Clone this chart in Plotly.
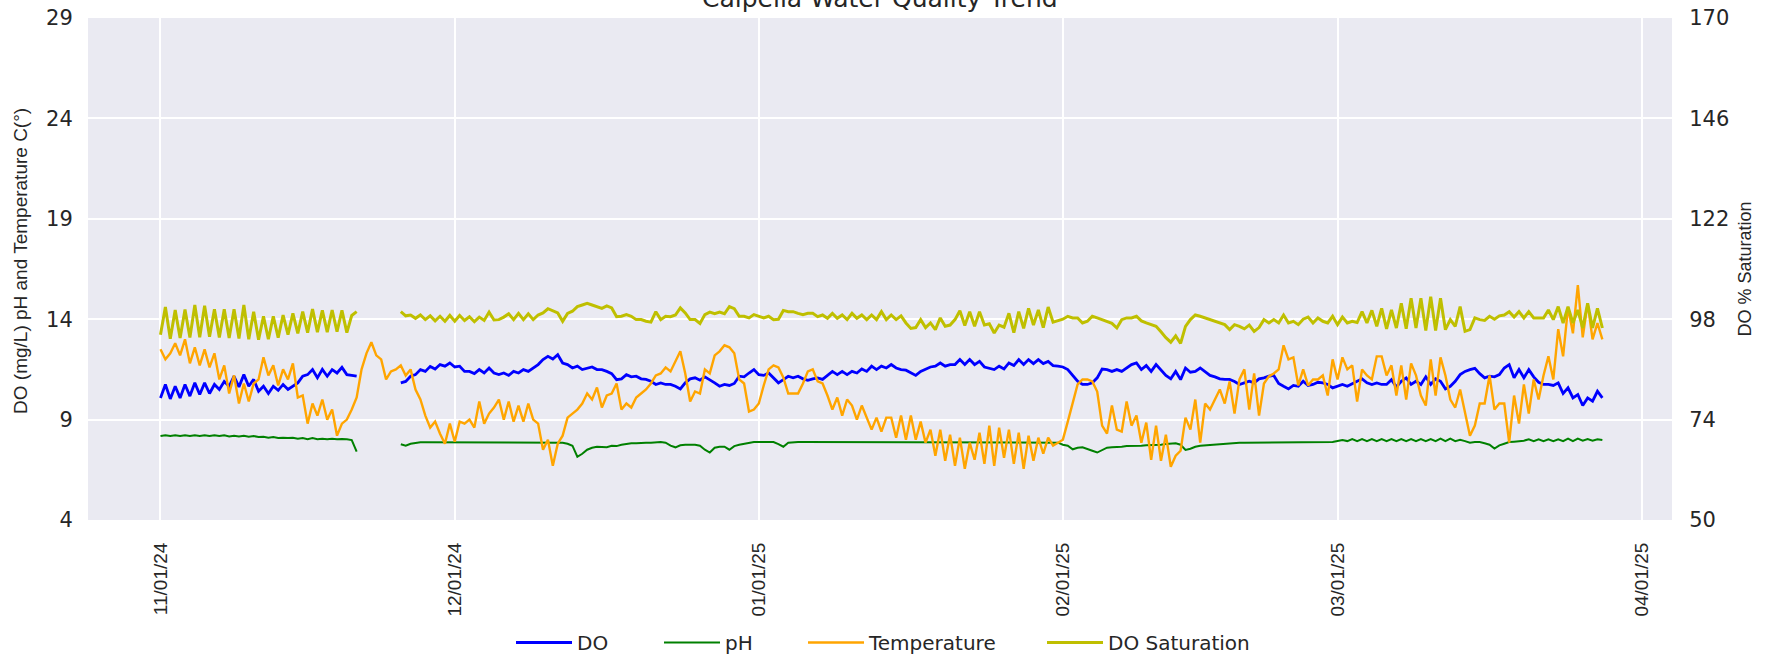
import pandas as pd
import plotly.graph_objects as go

# ---- sampling: one reading every 12 hours starting 2024-11-01 00:00 ----
start_time = "2024-11-01 00:00"
sample_step = "12h"

# DO (mg/L) - left axis (None = logger gap)
do_mgl = [
    10.08, 10.75, 10.03, 10.66, 10.08, 10.75, 10.17, 10.83, 10.25, 10.83,
    10.3, 10.75, 10.5, 10.9, 10.66, 11.16, 10.63, 11.24, 10.66, 11.0,
    10.41, 10.66, 10.3, 10.66, 10.46, 10.75, 10.5, 10.66, 10.83, 11.16,
    11.24, 11.49, 11.08, 11.5, 11.16, 11.49, 11.32, 11.6, 11.24, 11.2,
    11.16, None, None, None, None, None, None, None, None, 10.83,
    10.9, 11.16, 11.24, 11.49, 11.4, 11.65, 11.52, 11.74, 11.66, 11.82,
    11.62, 11.66, 11.4, 11.4, 11.29, 11.49, 11.32, 11.57, 11.32, 11.24,
    11.32, 11.2, 11.4, 11.32, 11.49, 11.4, 11.57, 11.74, 11.99, 12.15,
    12.02, 12.23, 11.82, 11.74, 11.57, 11.66, 11.49, 11.57, 11.62, 11.49,
    11.49, 11.4, 11.29, 10.99, 11.03, 11.24, 11.13, 11.16, 11.03, 11.0,
    10.91, 10.75, 10.83, 10.75, 10.75, 10.66, 10.53, 10.83, 11.03, 11.08,
    10.96, 11.13, 11.0, 10.83, 10.66, 10.75, 10.7, 10.8, 11.16, 11.13,
    11.32, 11.49, 11.24, 11.2, 11.32, 11.08, 10.83, 10.99, 11.16, 11.08,
    11.16, 11.03, 10.96, 11.03, 11.08, 11.0, 11.2, 11.4, 11.24, 11.4,
    11.24, 11.4, 11.32, 11.52, 11.4, 11.66, 11.49, 11.66, 11.57, 11.74,
    11.57, 11.49, 11.46, 11.32, 11.2, 11.4, 11.49, 11.62, 11.66, 11.82,
    11.66, 11.74, 11.74, 11.99, 11.74, 11.99, 11.74, 11.9, 11.62, 11.57,
    11.49, 11.66, 11.52, 11.82, 11.69, 11.99, 11.74, 11.99, 11.79, 11.99,
    11.79, 11.9, 11.69, 11.66, 11.62, 11.49, 11.2, 10.91, 10.75, 10.75,
    10.83, 11.08, 11.52, 11.49, 11.4, 11.49, 11.4, 11.57, 11.74, 11.82,
    11.49, 11.69, 11.4, 11.74, 11.46, 11.2, 11.03, 11.4, 10.99, 11.57,
    11.36, 11.4, 11.57, 11.4, 11.2, 11.13, 11.03, 11.0, 11.0, 10.9,
    10.75, 10.83, 10.91, 10.83, 11.03, 11.08, 11.16, 11.2, 10.8, 10.66,
    10.53, 10.7, 10.66, 10.91, 10.7, 10.75, 10.86, 10.83, 10.75, 10.58,
    10.66, 10.75, 10.66, 10.8, 10.91, 11.03, 10.83, 10.75, 10.83, 10.75,
    10.75, 10.99, 10.63, 10.91, 11.08, 10.75, 10.91, 10.75, 11.13, 10.75,
    11.03, 10.91, 10.53, 10.66, 10.91, 11.24, 11.4, 11.49, 11.55, 11.29,
    11.08, 11.16, 11.13, 11.24, 11.57, 11.74, 11.08, 11.49, 11.08, 11.49,
    11.13, 10.86, 10.75, 10.75, 10.7, 10.83, 10.3, 10.58, 10.08, 10.25,
    9.7, 10.08, 9.92, 10.41, 10.08,
]

# pH - left axis
ph = [
    8.18, 8.22, 8.18, 8.22, 8.18, 8.22, 8.18, 8.22, 8.18, 8.22,
    8.18, 8.22, 8.18, 8.22, 8.16, 8.2, 8.16, 8.2, 8.15, 8.18,
    8.13, 8.15, 8.1, 8.13, 8.08, 8.1, 8.08, 8.1, 8.05, 8.08,
    8.02, 8.08, 8.02, 8.05, 8.02, 8.05, 8.02, 8.04, 8.02, 7.98,
    7.4, None, None, None, None, None, None, None, None, 7.77,
    7.7, 7.8, 7.85, 7.87, 7.87, 7.87, 7.88, 7.88, 7.88, 7.88,
    7.88, 7.88, 7.88, 7.88, 7.88, 7.88, 7.88, 7.88, 7.88, 7.88,
    7.88, 7.88, 7.88, 7.88, 7.88, 7.88, 7.88, 7.88, 7.88, 7.88,
    7.88, 7.87, 7.85, 7.8, 7.7, 7.15, 7.3, 7.5, 7.6, 7.65,
    7.65, 7.62, 7.7, 7.68, 7.75, 7.8, 7.82, 7.82, 7.85, 7.85,
    7.85, 7.88, 7.88, 7.85, 7.7, 7.62, 7.72, 7.75, 7.75, 7.75,
    7.7, 7.5, 7.36, 7.6, 7.65, 7.65, 7.5, 7.68, 7.75, 7.8,
    7.85, 7.88, 7.88, 7.88, 7.88, 7.88, 7.78, 7.65, 7.85, 7.88,
    7.88, 7.88, 7.88, 7.88, 7.88, 7.88, 7.88, 7.88, 7.88, 7.88,
    7.88, 7.88, 7.88, 7.88, 7.88, 7.88, 7.88, 7.88, 7.88, 7.88,
    7.88, 7.88, 7.88, 7.88, 7.88, 7.88, 7.88, 7.88, 7.88, 7.88,
    7.88, 7.88, 7.88, 7.88, 7.88, 7.88, 7.88, 7.88, 7.88, 7.88,
    7.88, 7.88, 7.88, 7.88, 7.88, 7.88, 7.88, 7.88, 7.88, 7.88,
    7.88, 7.88, 7.88, 7.85, 7.75, 7.7, 7.52, 7.6, 7.62, 7.55,
    7.45, 7.36, 7.48, 7.6, 7.62, 7.62, 7.65, 7.68, 7.68, 7.7,
    7.7, 7.72, 7.72, 7.75, 7.75, 7.78, 7.8, 7.82, 7.75, 7.49,
    7.55, 7.65, 7.7, 7.72, 7.75, 7.78, 7.8, 7.82, 7.82, 7.85,
    7.85, 7.85, 7.85, 7.85, 7.88, 7.88, 7.88, 7.88, 7.88, 7.88,
    7.88, 7.88, 7.88, 7.88, 7.88, 7.88, 7.88, 7.88, 7.88, 7.88,
    7.93, 7.98, 7.93, 8.03, 7.93, 8.03, 7.93, 8.03, 7.93, 8.03,
    7.93, 8.03, 7.93, 8.03, 7.93, 8.03, 7.93, 8.03, 7.93, 8.03,
    7.93, 8.05, 7.93, 8.05, 7.93, 8.0, 7.93, 7.85, 7.88, 7.88,
    7.82, 7.75, 7.56, 7.72, 7.8, 7.88, 7.9, 7.93, 7.95, 8.02,
    7.93, 8.02, 7.93, 8.02, 7.93, 8.02, 7.93, 8.05, 7.93, 8.05,
    7.95, 8.03, 7.95, 8.02, 7.98,
]

# Water temperature (deg C) - left axis
temp_c = [
    12.5, 12.0, 12.3, 12.8, 12.2, 13.0, 11.8, 12.6, 11.7, 12.5,
    11.6, 12.3, 11.0, 11.7, 10.3, 11.2, 9.8, 10.8, 9.9, 10.8,
    11.0, 12.1, 11.2, 11.7, 10.7, 11.5, 11.0, 11.8, 10.1, 10.2,
    8.8, 9.8, 9.2, 10.0, 9.0, 9.5, 8.2, 8.8, 9.0, 9.5,
    10.1, 11.5, 12.3, 12.85, 12.2, 12.0, 11.0, 11.4, 11.5, 11.7,
    11.2, 11.5, 10.5, 10.0, 9.2, 8.6, 8.9, 8.3, 7.8, 8.8,
    7.9, 8.9, 8.8, 9.0, 8.6, 9.9, 8.8, 9.3, 9.6, 10.0,
    9.0, 9.9, 8.9, 9.7, 8.9, 9.8, 9.0, 8.8, 7.5, 8.0,
    6.7, 7.8, 8.2, 9.1, 9.3, 9.5, 9.8, 10.3, 10.0, 10.6,
    9.6, 10.2, 10.3, 10.8, 9.5, 9.8, 9.6, 10.1, 10.3, 10.5,
    10.8, 11.2, 11.3, 11.6, 11.4, 11.9, 12.4, 11.3, 9.9, 10.4,
    10.3, 11.5, 11.3, 12.2, 12.4, 12.7, 12.6, 12.3, 11.0, 10.8,
    9.4, 9.5, 9.8, 10.7, 11.5, 11.7, 11.6, 11.1, 10.3, 10.3,
    10.3, 10.8, 11.4, 11.5, 10.9, 10.8, 10.2, 9.5, 10.1, 9.2,
    10.0, 9.7, 9.0, 9.7, 9.1, 8.5, 9.1, 8.4, 9.1, 9.1,
    8.1, 9.2, 8.0, 9.2, 8.0, 8.9, 7.85, 8.5, 7.2, 8.5,
    6.95, 8.25, 6.7, 8.1, 6.55, 7.85, 7.0, 8.35, 6.8, 8.7,
    6.7, 8.6, 7.1, 8.5, 6.8, 8.35, 6.55, 8.2, 6.95, 8.1,
    7.3, 8.1, 7.7, 7.85, 8.0, 8.9, 9.8, 10.75, 11.0, 11.0,
    10.9, 10.4, 8.7, 8.3, 9.7, 8.5, 8.4, 9.9, 8.7, 9.2,
    7.85, 8.85, 7.0, 8.7, 6.95, 8.25, 6.65, 7.2, 7.45, 9.1,
    8.5, 10.0, 7.85, 9.8, 9.5, 10.0, 10.5, 9.8, 10.9, 9.3,
    11.0, 11.5, 9.5, 11.3, 9.2, 10.8, 11.15, 11.3, 11.5, 12.7,
    12.0, 12.1, 10.7, 11.5, 10.7, 11.0, 11.0, 11.2, 10.2, 12.0,
    11.0, 12.1, 11.5, 11.7, 9.9, 11.5, 11.2, 11.0, 12.15, 12.15,
    11.2, 11.7, 10.2, 11.7, 10.0, 11.8, 11.2, 10.2, 9.7, 12.0,
    10.2, 12.1, 11.2, 10.0, 9.6, 10.5, 9.3, 8.2, 8.7, 9.8,
    9.8, 11.2, 9.5, 9.8, 9.8, 7.85, 10.2, 8.8, 10.75, 9.3,
    11.0, 10.0, 11.2, 12.15, 11.0, 13.5, 12.15, 14.6, 13.3, 15.7,
    13.1, 14.8, 13.0, 13.8, 13.0,
]

# DO saturation (%) - right axis
do_sat = [
    94.3, 100.9, 93.3, 100.2, 93.5, 100.3, 93.6, 101.4, 93.7, 101.2,
    93.8, 100.4, 93.6, 100.4, 93.5, 100.4, 93.4, 101.4, 93.2, 99.8,
    93.1, 98.7, 93.2, 98.7, 93.6, 99.0, 94.3, 99.4, 94.6, 99.8,
    94.8, 100.4, 94.9, 100.1, 94.9, 100.2, 95.0, 100.1, 94.8, 98.9,
    99.8, None, None, None, None, None, None, None, None, 99.8,
    98.8, 99.0, 98.2, 99.0, 97.9, 98.8, 97.6, 98.7, 97.5, 98.9,
    97.5, 98.9, 97.7, 98.6, 97.4, 98.5, 97.7, 99.7, 97.8, 97.9,
    98.5, 99.3, 97.9, 99.4, 97.9, 99.3, 97.9, 99.0, 99.5, 100.5,
    99.9, 99.5, 97.5, 99.4, 99.9, 101.0, 101.4, 101.8, 101.4, 101.0,
    100.6, 101.2, 100.7, 98.6, 98.7, 99.1, 98.7, 97.9, 97.9, 97.5,
    97.3, 99.8, 97.9, 98.7, 98.6, 99.0, 100.7, 99.5, 97.9, 97.9,
    97.0, 99.1, 99.7, 99.3, 99.7, 99.3, 101.0, 100.5, 98.7, 98.7,
    98.3, 99.1, 98.7, 98.3, 98.7, 97.9, 98.0, 100.1, 99.8, 99.8,
    99.4, 99.1, 99.4, 99.4, 98.6, 99.0, 98.2, 99.4, 98.2, 99.0,
    97.9, 99.4, 98.2, 99.0, 97.9, 99.0, 97.9, 99.8, 97.9, 99.0,
    97.9, 98.8, 97.1, 95.8, 96.0, 97.9, 96.0, 97.1, 95.5, 98.3,
    96.3, 96.6, 97.9, 100.0, 96.5, 99.8, 96.3, 99.8, 96.6, 96.9,
    94.7, 96.6, 96.1, 99.4, 94.8, 99.8, 95.8, 100.6, 96.6, 100.2,
    96.0, 100.9, 97.3, 97.6, 98.0, 98.7, 98.3, 98.3, 97.1, 97.5,
    98.7, 98.3, 97.9, 97.5, 97.0, 95.9, 97.9, 98.3, 98.3, 98.7,
    97.6, 97.1, 96.7, 96.3, 95.0, 93.6, 92.5, 94.0, 92.2, 96.3,
    97.9, 99.0, 98.7, 98.3, 97.9, 97.5, 97.1, 96.7, 95.5, 96.7,
    96.3, 95.7, 96.6, 95.1, 96.0, 97.9, 97.1, 97.9, 97.1, 99.0,
    97.1, 97.5, 96.7, 98.0, 98.5, 97.1, 98.3, 97.5, 97.1, 98.7,
    96.7, 98.5, 97.1, 97.5, 97.2, 99.8, 97.1, 100.1, 96.3, 100.6,
    95.7, 100.2, 95.9, 101.8, 95.7, 103.0, 95.9, 103.0, 95.3, 103.4,
    95.3, 103.0, 95.5, 97.9, 96.3, 101.0, 95.1, 95.5, 98.3, 97.9,
    97.7, 98.7, 98.0, 98.8, 99.0, 99.8, 98.5, 99.8, 98.3, 99.8,
    98.3, 98.3, 98.3, 100.2, 97.9, 101.0, 97.1, 101.0, 97.1, 100.2,
    95.9, 101.8, 95.9, 100.6, 95.9,
]

# axis ticks
tick_dates = ["2024-11-01", "2024-12-01", "2025-01-01", "2025-02-01", "2025-03-01", "2025-04-01"]
tick_labels = ["11/01/24", "12/01/24", "01/01/25", "02/01/25", "03/01/25", "04/01/25"]
left_ticks = [4, 9, 14, 19, 24, 29]
right_ticks = [50, 74, 98, 122, 146, 170]


def times(n):
    return pd.date_range(start_time, periods=n, freq=sample_step)


WIDE = "DejaVu Sans, Verdana, sans-serif"
NARROW = "Liberation Sans, Arial, Helvetica, sans-serif"
TXT = "#262626"

fig = go.Figure()
fig.add_trace(go.Scatter(x=times(len(do_mgl)), y=do_mgl, name="DO", mode="lines",
                         line=dict(color="#0000ff", width=2.8), connectgaps=False,
                         legend="legend"))
fig.add_trace(go.Scatter(x=times(len(ph)), y=ph, name="pH", mode="lines",
                         line=dict(color="#008000", width=2.0), connectgaps=False,
                         legend="legend2"))
fig.add_trace(go.Scatter(x=times(len(temp_c)), y=temp_c, name="Temperature", mode="lines",
                         line=dict(color="#ffa500", width=2.4), connectgaps=False,
                         legend="legend3"))
fig.add_trace(go.Scatter(x=times(len(do_sat)), y=do_sat, name="DO Saturation", mode="lines",
                         line=dict(color="#bfbf00", width=3.0), connectgaps=False, yaxis="y2",
                         legend="legend4"))

t0 = pd.Timestamp("2024-11-01")
x_lo = (t0 - pd.Timedelta(days=7.39)).strftime("%Y-%m-%d %H:%M:%S")
x_hi = (t0 + pd.Timedelta(days=154.1)).strftime("%Y-%m-%d %H:%M:%S")

PLOT_L, PLOT_W = 88, 1584


def legend_box(line_start_px):
    return dict(orientation="h", x=(line_start_px - 10 - PLOT_L) / PLOT_W, xanchor="left",
                y=-0.244, yanchor="middle", font=dict(size=20, color=TXT, family=WIDE),
                bgcolor="rgba(0,0,0,0)", itemwidth=56)


fig.update_layout(
    width=1777, height=664,
    margin=dict(l=PLOT_L, r=105, t=18, b=144, pad=0, autoexpand=False),
    paper_bgcolor="white", plot_bgcolor="#EAEAF2",
    font=dict(family=WIDE, color=TXT, size=19),
    showlegend=True,
    xaxis=dict(type="date", range=[x_lo, x_hi], tickmode="array", tickvals=tick_dates,
               ticktext=tick_labels, tickangle=-90, showgrid=True, gridcolor="white",
               gridwidth=1.8, zeroline=False, showline=False, ticks="outside",
               ticklen=14, tickcolor="rgba(0,0,0,0)", automargin=False,
               tickfont=dict(size=19, color=TXT, family=NARROW)),
    yaxis=dict(range=[4, 29], tickmode="array", tickvals=left_ticks, showgrid=True,
               gridcolor="white", gridwidth=1.8, zeroline=False, showline=False,
               ticks="outside", ticklen=10, tickcolor="rgba(0,0,0,0)", automargin=False,
               tickfont=dict(size=21, color=TXT, family=WIDE)),
    yaxis2=dict(range=[50, 170], overlaying="y", side="right", tickmode="array",
                tickvals=right_ticks, showgrid=False, zeroline=False, showline=False,
                ticks="outside", ticklen=12, tickcolor="rgba(0,0,0,0)", automargin=False,
                tickfont=dict(size=21, color=TXT, family=WIDE),
                title=dict(text="DO % Saturation", font=dict(size=18, color=TXT, family=NARROW),
                           standoff=10)),
    legend=legend_box(521),
    legend2=legend_box(669),
    legend3=legend_box(813),
    legend4=legend_box(1052),
    annotations=[
        dict(text="Calpella Water Quality Trend", x=0.5, xref="paper",
             y=1, yref="paper", yanchor="bottom", yshift=3, showarrow=False,
             font=dict(size=25, color=TXT, family=WIDE)),
        # left axis title (placed explicitly to match the reference position)
        dict(text="DO (mg/L) pH and Temperature C(°)", textangle=-90,
             x=(21 - PLOT_L) / PLOT_W, xref="paper", xanchor="center",
             y=0.516, yref="paper", yanchor="middle", showarrow=False,
             font=dict(size=19, color=TXT, family=NARROW)),
    ],
)

fig.write_html("out.html", include_plotlyjs=True, config={"displayModeBar": False},
               post_script="document.body.style.margin='0';document.body.style.overflow='hidden';")
